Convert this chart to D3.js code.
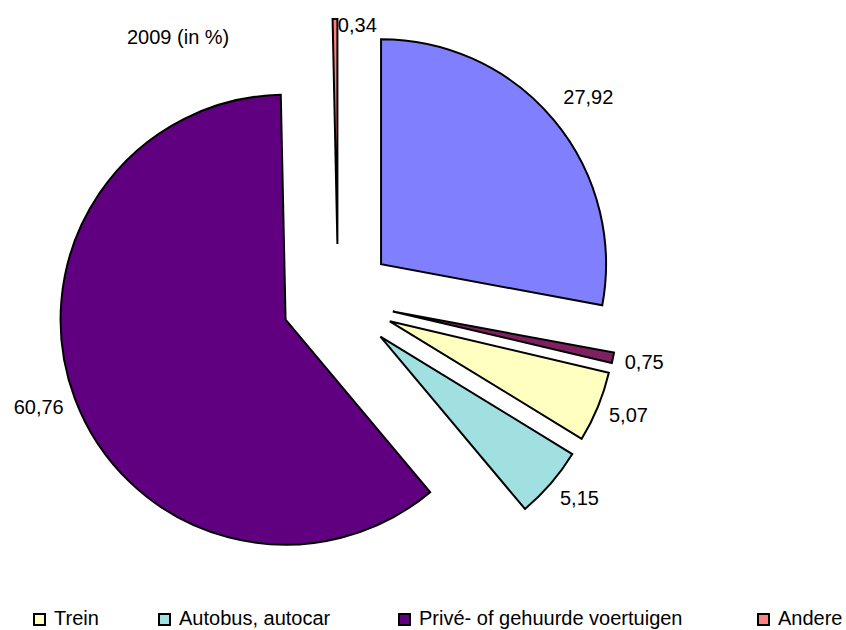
<!DOCTYPE html>
<html>
<head>
<meta charset="utf-8">
<script src="https://cdn.jsdelivr.net/npm/d3@7"></script>
<style>
    body { margin: 0; background: #fff; }
    text { font-family: "Liberation Sans", Arial, sans-serif; fill: #000; }
</style>
</head>
<body>
<script>
// Slices clockwise from 12 o'clock (only the last four appear in the legend)
var categories = ["Vliegtuig", "Boot", "Trein", "Autobus, autocar",
    "Privé- of gehuurde voertuigen", "Andere"];
var values = [27.92, 0.75, 5.07, 5.15, 60.76, 0.34];
var legendItems = ["Trein", "Autobus, autocar",
    "Privé- of gehuurde voertuigen", "Andere"];
var title = "2009 (in %)";

var palette = ["#8080FF", "#7F2060", "#FFFFC0", "#A0E0E0", "#600080",
    "#FF8080"];

var width = 846, height = 630;
var cx = 338, cy = 300, radius = 225, explode = 56;
var legendX = [33, 158, 398, 757];

var nl = d3.formatLocale({decimal: ",", thousands: ".", grouping: [3],
    currency: ["€", ""]});
var fmt = nl.format(".2f");

var color = d3.scaleOrdinal().domain(categories).range(palette);

var svg = d3.select("body").append("svg")
    .attr("width", width)
    .attr("height", height);

var data = categories.map(function (c, i) {
    return {key: c, value: values[i]};
});

var pie = d3.pie().sort(null).value(function (d) { return d.value; });
var arc = d3.arc().innerRadius(0).outerRadius(radius);

var g = svg.append("g")
    .attr("transform", "translate(" + cx + "," + cy + ")");

// every slice is pulled out along its middle angle
var slices = g.selectAll("g.slice")
    .data(pie(data))
    .enter()
    .append("g")
    .attr("class", "slice")
    .attr("transform", function (d) {
        var mid = (d.startAngle + d.endAngle) / 2;
        return "translate(" + (Math.sin(mid) * explode) + "," +
            (-Math.cos(mid) * explode) + ")";
    });

slices.append("path")
    .attr("d", arc)
    .attr("fill", function (d) { return color(d.data.key); })
    .attr("stroke", "#000")
    .attr("stroke-width", 2)
    .attr("stroke-linejoin", "miter");

// data labels just outside each slice
slices.append("text")
    .attr("font-size", "20px")
    .each(function (d) {
        var mid = (d.startAngle + d.endAngle) / 2;
        var s = Math.sin(mid), c = Math.cos(mid);
        var px = s * (radius + 12), py = -c * (radius + 12);
        var anchor = s >= 0 ? "start" : "end";
        var y = py - c * (c > 0 ? 24 : 10) + 7;
        // keep the label inside the chart area at the top
        var offY = cy - explode * c;
        if (offY + y - 16 < 12) {
            y = 32 - offY;
            px = px + 3;
            anchor = "start";
        }
        d3.select(this)
            .attr("x", px)
            .attr("y", y)
            .attr("text-anchor", anchor)
            .text(fmt(d.data.value));
    });

svg.append("text")
    .attr("x", 127)
    .attr("y", 44)
    .attr("font-size", "20px")
    .text(title);

// legend
var legend = svg.selectAll("g.legend")
    .data(legendItems)
    .enter()
    .append("g")
    .attr("class", "legend")
    .attr("transform", function (d, i) {
        return "translate(" + legendX[i] + ",613)";
    });

legend.append("rect")
    .attr("x", 1)
    .attr("y", 1)
    .attr("width", 11)
    .attr("height", 11)
    .attr("fill", function (d) { return color(d); })
    .attr("stroke", "#000")
    .attr("stroke-width", 2);

legend.append("text")
    .attr("x", 21)
    .attr("y", 12)
    .attr("font-size", "20px")
    .text(function (d) { return d; });
</script>
</body>
</html>
